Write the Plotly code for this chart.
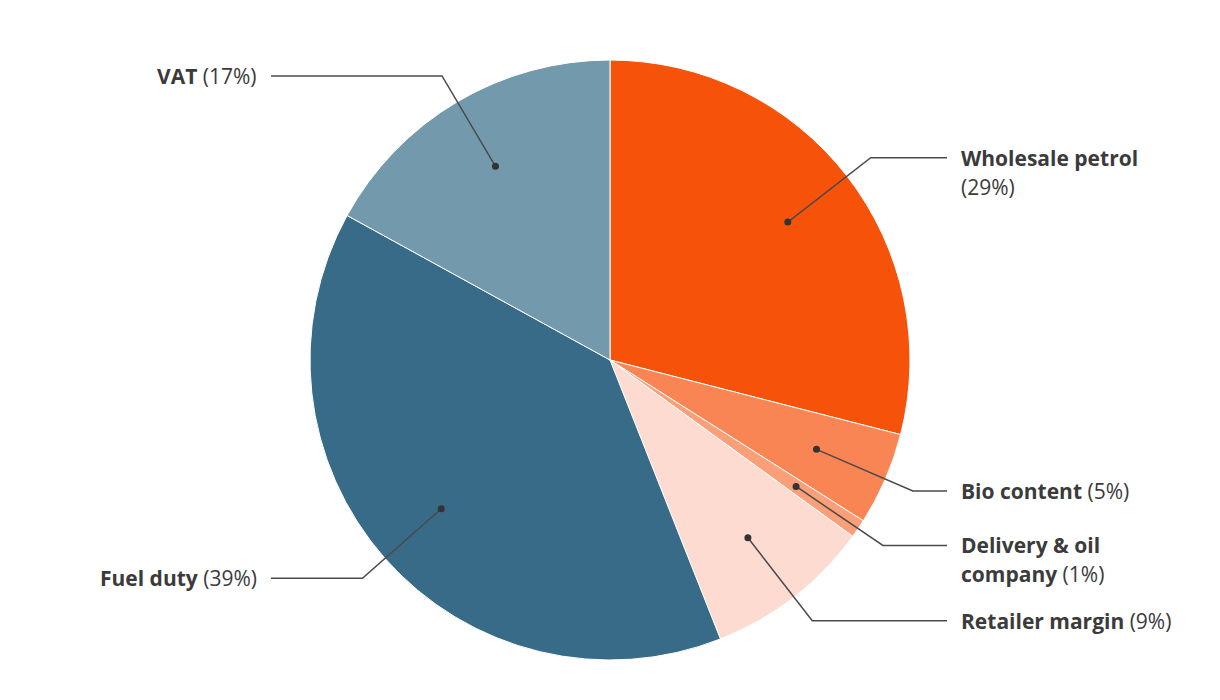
import math
import plotly.graph_objects as go

# ---- data ----
categories = ["Wholesale petrol", "Bio content", "Delivery & oil company",
              "Retailer margin", "Fuel duty", "VAT"]
values = [29, 5, 1, 9, 39, 17]
# label text split into lines (name part bold, percentage regular)
label_names = [["Wholesale petrol"], ["Bio content"], ["Delivery & oil", "company"],
               ["Retailer margin"], ["Fuel duty"], ["VAT"]]
colors = ["#F7520A", "#F98454", "#FA9F78", "#FDDBD0", "#386B88", "#7399AC"]

W, H = 1204, 684
OFF = 8  # page body margin
CX, CY, R = 610 - OFF, 360 - OFF, 300
TEXT_COLOR = "#3b3b3b"
LINE_COLOR = "#4a4a4a"
FONT = "Open Sans"
FS = 21
LINE_H = 29
RIGHT_X_LINE_END, RIGHT_X_TEXT = 947 - OFF, 959 - OFF
LEFT_X_LINE_END, LEFT_X_TEXT = 271 - OFF, 259 - OFF

fig = go.Figure()
fig.add_trace(go.Pie(
    labels=categories, values=values, sort=False, direction="clockwise",
    rotation=0, marker=dict(colors=colors, line=dict(color="white", width=1)),
    textinfo="none", hoverinfo="label+percent", showlegend=False,
    domain=dict(x=[(CX - R) / W, (CX + R) / W], y=[(H - CY - R) / H, (H - CY + R) / H]),
))

total = sum(values)
shapes, annotations = [], []
cum = 0
for name_lines, v in zip(label_names, values):
    mid = (cum + v / 2) / total * 2 * math.pi
    cum += v
    sx, sy = math.sin(mid), -math.cos(mid)
    dx, dy = CX + 0.75 * R * sx, CY + 0.75 * R * sy
    ex, ey = CX + 1.1 * R * sx, CY + 1.1 * R * sy
    right = sx > 0
    endx = RIGHT_X_LINE_END if right else LEFT_X_LINE_END
    shapes.append(dict(type="path", xref="x", yref="y",
                       path=f"M{dx},{dy} L{ex},{ey} L{endx},{ey}",
                       line=dict(color=LINE_COLOR, width=1.5)))
    shapes.append(dict(type="circle", xref="x", yref="y",
                       x0=dx - 3.5, x1=dx + 3.5, y0=dy - 3.5, y1=dy + 3.5,
                       fillcolor="#333333", line=dict(width=0)))
    pct = f"({v}%)"
    if name_lines[0] == "Wholesale petrol":
        lines = [f"<b>{name_lines[0]}</b>", pct]
    else:
        lines = [f"<b>{n}</b>" for n in name_lines]
        lines[-1] = lines[-1] + " " + pct
    for i, t in enumerate(lines):
        annotations.append(dict(
            x=RIGHT_X_TEXT if right else LEFT_X_TEXT, y=ey + i * LINE_H,
            xref="x", yref="y", text=t, showarrow=False,
            xanchor="left" if right else "right", yanchor="middle",
            font=dict(family=FONT, size=FS, color=TEXT_COLOR)))

fig.update_layout(
    width=W, height=H, margin=dict(l=0, r=0, t=0, b=0),
    paper_bgcolor="white", plot_bgcolor="rgba(0,0,0,0)",
    xaxis=dict(range=[0, W], visible=False, fixedrange=True),
    yaxis=dict(range=[H, 0], visible=False, fixedrange=True),
    shapes=shapes, annotations=annotations,
)
fig.write_html("out.html")
